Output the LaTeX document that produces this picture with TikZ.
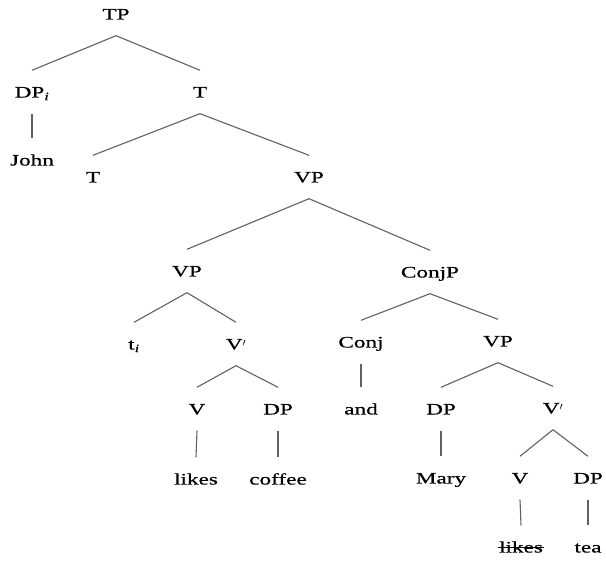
\documentclass[tikz,border=0pt]{standalone}
\usepackage{fontspec}
\setmainfont[FakeStretch=1.45, FakeBold=0.5]{Liberation Serif}
\newcommand{\barlevel}{\raisebox{-3.5pt}{$'$}}

\begin{document}
\begin{tikzpicture}[x=1pt, y=-1pt,
    every node/.style={font=\fontsize{16}{19}\selectfont, text height=11pt, text depth=0pt, inner xsep=2pt, inner ysep=16pt},
    branch/.style={draw=black!62, line width=1.1pt},
    strike/.style={draw=black, line width=0.9pt}]
    \useasboundingbox (0,0) rectangle (606,561);

    \node (tp) at (116, 14) {TP};
    \node (dpi) at (32, 92) {DP\textsubscript{\itshape i}};
    \node (tbar) at (200, 92) {T};
    \node (john) at (32, 160) {John};
    \node (t) at (93, 177) {T};
    \node (vp) at (309, 177) {VP};
    \node (vpa) at (187, 271) {VP};
    \node (conjp) at (430, 272) {ConjP};
    \node (ti) at (134, 344) {t\textsubscript{\itshape i}};
    \node (vbara) at (236, 344) {V\barlevel};
    \node (conj) at (361, 342) {Conj};
    \node (vpb) at (498, 341) {VP};
    \node (va) at (197, 409) {V};
    \node (dpa) at (278, 409) {DP};
    \node (and) at (361, 409) {and};
    \node (dpb) at (441, 409) {DP};
    \node (vbarb) at (553, 408) {V\barlevel};
    \node (likesa) at (196, 479) {likes};
    \node (coffee) at (278, 479) {coffee};
    \node (mary) at (441, 478) {Mary};
    \node (vb) at (520, 478) {V};
    \node (dpc) at (588, 478) {DP};
    \node (likesb) at (521, 547) {likes};
    \node (tea) at (588, 547) {tea};

    % struck-out copy
    \draw[strike] ([xshift=1pt]likesb.west) -- ([xshift=-1pt]likesb.east);

    \draw[branch] (tp.south) -- (dpi.north);
    \draw[branch] (tp.south) -- (tbar.north);
    \draw[branch] (dpi.south) -- (john.north);
    \draw[branch] (tbar.south) -- (t.north);
    \draw[branch] (tbar.south) -- (vp.north);
    \draw[branch] (vp.south) -- (vpa.north);
    \draw[branch] (vp.south) -- (conjp.north);
    \draw[branch] (vpa.south) -- (ti.north);
    \draw[branch] (vpa.south) -- (vbara.north);
    \draw[branch] (vbara.south) -- (va.north);
    \draw[branch] (vbara.south) -- (dpa.north);
    \draw[branch] (va.south) -- (likesa.north);
    \draw[branch] (dpa.south) -- (coffee.north);
    \draw[branch] (conjp.south) -- (conj.north);
    \draw[branch] (conjp.south) -- (vpb.north);
    \draw[branch] (conj.south) -- (and.north);
    \draw[branch] (vpb.south) -- (dpb.north);
    \draw[branch] (vpb.south) -- (vbarb.north);
    \draw[branch] (dpb.south) -- (mary.north);
    \draw[branch] (vbarb.south) -- (vb.north);
    \draw[branch] (vbarb.south) -- (dpc.north);
    \draw[branch] (vb.south) -- (likesb.north);
    \draw[branch] (dpc.south) -- (tea.north);
\end{tikzpicture}
\end{document}
